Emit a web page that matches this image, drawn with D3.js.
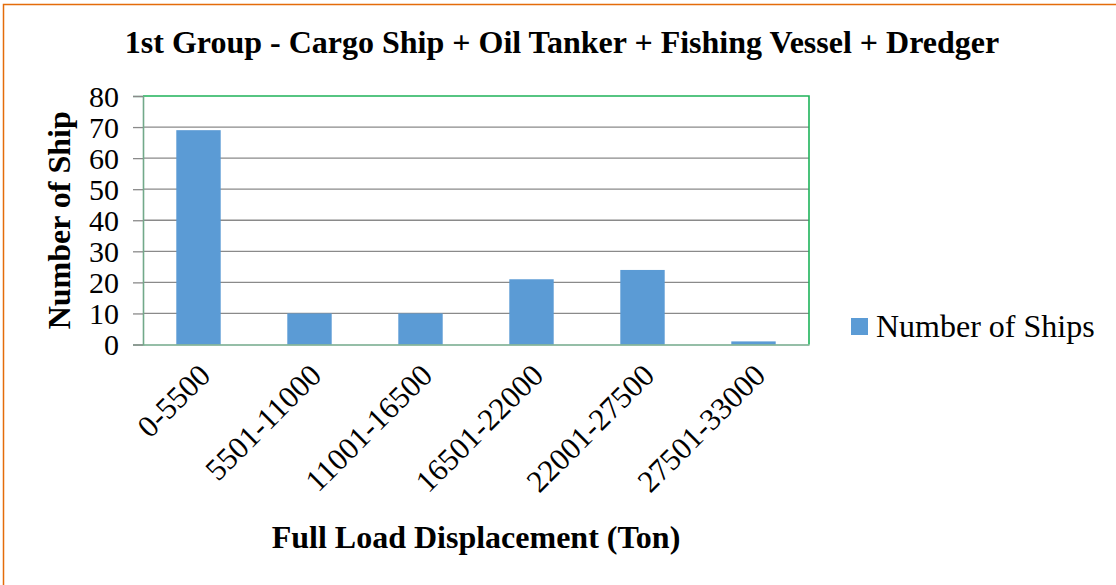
<!DOCTYPE html>
<html>
<head>
<meta charset="utf-8">
<script src="https://cdn.jsdelivr.net/npm/d3@7"></script>
<style>
  html, body { margin: 0; padding: 0; background: #fff; }
  svg { display: block; }
  text { font-family: "Liberation Serif", "Times New Roman", serif; fill: #000; }
</style>
</head>
<body>
<svg id="chart" width="1116" height="585"></svg>
<script>
const categories = ["0-5500", "5501-11000", "11001-16500", "16501-22000", "22001-27500", "27501-33000"];
const shipCounts = [69, 10, 10, 21, 24, 1];
const yTicks = [0, 10, 20, 30, 40, 50, 60, 70, 80];
const seriesName = "Number of Ships";
const chartTitle = "1st Group - Cargo Ship + Oil Tanker + Fishing Vessel + Dredger";
const xTitle = "Full Load Displacement (Ton)";
const yTitle = "Number of Ship";

const svg = d3.select("#chart");
const plot = { left: 143, right: 809, top: 96, bottom: 344.5 };

// outer chart border (orange)
svg.append("rect")
  .attr("x", 3.5).attr("y", 4.5)
  .attr("width", 1300).attr("height", 800)
  .attr("fill", "none").attr("stroke", "#e46c0a").attr("stroke-width", 1.5);

const x = d3.scaleBand().domain(categories).range([plot.left, plot.right]).paddingInner(0.6).paddingOuter(0.3);
const y = d3.scaleLinear().domain([0, 80]).range([plot.bottom, plot.top]);

// gridlines
svg.append("g").selectAll("line")
  .data(yTicks.filter(d => d > 0 && d < 80))
  .join("line")
  .attr("x1", plot.left).attr("x2", plot.right)
  .attr("y1", d => y(d)).attr("y2", d => y(d))
  .attr("stroke", "#8a8a8a").attr("stroke-width", 1.3);

// bars
svg.append("g").selectAll("rect")
  .data(shipCounts)
  .join("rect")
  .attr("x", (d, i) => x(categories[i]))
  .attr("width", x.bandwidth())
  .attr("y", d => y(d))
  .attr("height", d => y(0) - y(d))
  .attr("fill", "#5b9bd5");

// plot area border (green) top & right
svg.append("path")
  .attr("d", `M${plot.left},${plot.top}H${plot.right}V${plot.bottom}`)
  .attr("fill", "none").attr("stroke", "#1fb35a").attr("stroke-width", 1.6);

// y axis
const yAxis = d3.axisLeft(y).tickValues(yTicks).tickSize(10).tickPadding(14).tickFormat(d3.format("d"));
const gy = svg.append("g").attr("transform", `translate(${plot.left},0)`).call(yAxis);
gy.select(".domain").attr("stroke", "#72a98a").attr("stroke-width", 1.6);
gy.selectAll(".tick line").attr("stroke", "#8a8a8a").attr("stroke-width", 1.3);
gy.selectAll(".tick text")
  .style("font-family", "'Liberation Serif', 'Times New Roman', serif")
  .style("font-size", "30px").attr("fill", "#000").attr("dy", "0.34em");

// x axis
const xAxis = d3.axisBottom(x).tickSize(0).tickPadding(0);
const gx = svg.append("g").attr("transform", `translate(0,${plot.bottom})`).call(xAxis);
gx.select(".domain").attr("stroke", "#72a98a").attr("stroke-width", 1.6);
gx.selectAll(".tick text")
  .style("font-family", "'Liberation Serif', 'Times New Roman', serif")
  .style("font-size", "31px").attr("fill", "#000")
  .attr("text-anchor", "end")
  .attr("transform", "translate(6,25) rotate(-45)")
  .attr("dy", "0.35em").attr("y", 0);

// title
svg.append("text")
  .attr("x", 562).attr("y", 53)
  .attr("text-anchor", "middle")
  .style("font-weight", "bold").style("font-size", "32px")
  .text(chartTitle);

// x axis title
svg.append("text")
  .attr("x", (plot.left + plot.right) / 2).attr("y", 548)
  .attr("text-anchor", "middle")
  .style("font-weight", "bold").style("font-size", "32px")
  .text(xTitle);

// y axis title
svg.append("text")
  .attr("transform", `translate(70,${(plot.top + plot.bottom) / 2}) rotate(-90)`)
  .attr("text-anchor", "middle")
  .style("font-weight", "bold").style("font-size", "32px")
  .text(yTitle);

// legend
const lg = svg.append("g").attr("transform", "translate(851,318)");
lg.append("rect").attr("width", 17).attr("height", 17).attr("fill", "#5b9bd5");
lg.append("text").attr("x", 25).attr("y", 19)
  .style("font-size", "32px").text(seriesName);
</script>
</body>
</html>
